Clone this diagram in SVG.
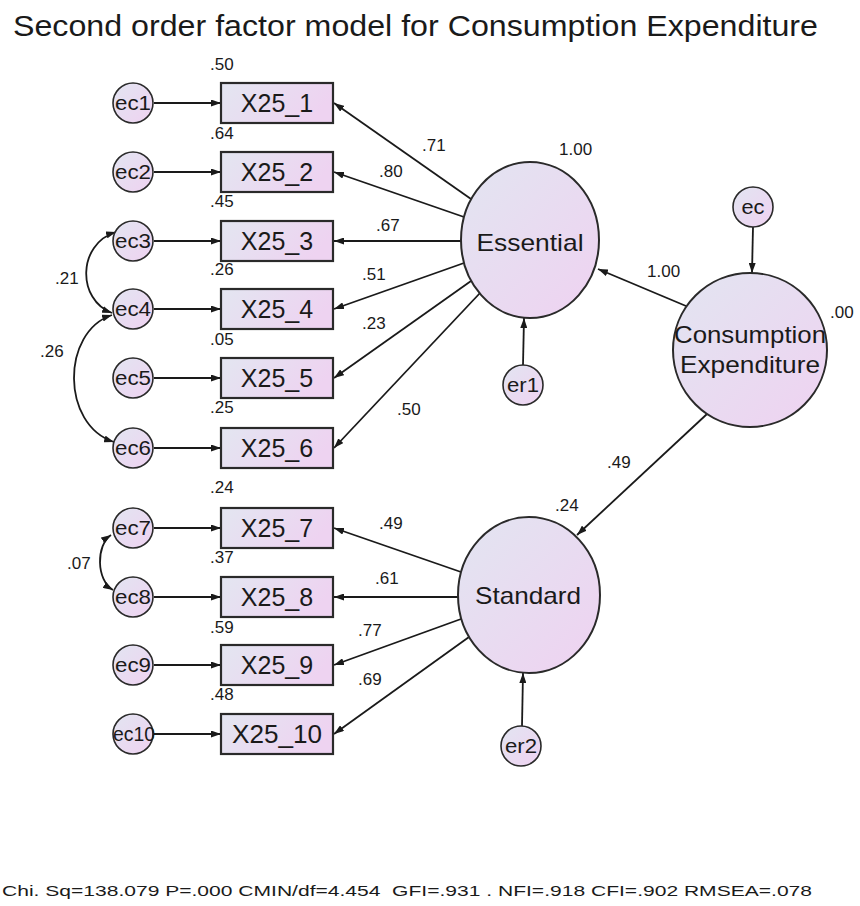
<svg xmlns="http://www.w3.org/2000/svg" width="860" height="906" viewBox="0 0 860 906">
  <defs>
    <linearGradient id="fillGrad" x1="0" y1="0" x2="1" y2="1">
      <stop offset="0" stop-color="#e2e5f1"/>
      <stop offset="1" stop-color="#efd2f1"/>
    </linearGradient>
    <linearGradient id="boxGrad" x1="0" y1="0" x2="1" y2="0.3">
      <stop offset="0" stop-color="#e3e6f1"/>
      <stop offset="1" stop-color="#eed3f1"/>
    </linearGradient>
    <marker id="arrow" viewBox="0 0 10 7" refX="10" refY="3.5" markerWidth="10" markerHeight="7" markerUnits="userSpaceOnUse" orient="auto-start-reverse">
      <path d="M0,0 L10,3.5 L0,7 z" fill="#1a1a1a"/>
    </marker>
  </defs>
  <style>
    text { font-family: "Liberation Sans", Arial, sans-serif; fill: #1a1a1a; }
    .title { font-size: 30px; }
    .box { fill: url(#boxGrad); stroke: #2a2a2a; stroke-width: 2.2; }
    .lat { fill: url(#fillGrad); stroke: #2a2a2a; stroke-width: 2; }
    .err { fill: url(#fillGrad); stroke: #2a2a2a; stroke-width: 1.6; }
    .vname { font-size: 25px; text-anchor: middle; }
    .lname { font-size: 24px; text-anchor: middle; }
    .ename { font-size: 20px; text-anchor: middle; }
    .num { font-size: 17px; }
    .fit { font-size: 15px; white-space: pre; }
    .path { fill: none; stroke: #1a1a1a; stroke-width: 1.8; marker-end: url(#arrow); }
    .cov { fill: none; stroke: #1a1a1a; stroke-width: 1.8; marker-start: url(#arrow); marker-end: url(#arrow); }
  </style>

  <text class="title" x="13" y="36" textLength="805" lengthAdjust="spacingAndGlyphs">Second order factor model for Consumption Expenditure</text>

  <!-- paths and covariances -->
  <g id="connectors">
    <!-- unique errors to indicators -->
    <line class="path" x1="154" y1="103" x2="221" y2="103"/>
    <line class="path" x1="154" y1="172" x2="221" y2="172"/>
    <line class="path" x1="154" y1="241" x2="221" y2="241"/>
    <line class="path" x1="154" y1="309" x2="221" y2="309"/>
    <line class="path" x1="154" y1="378" x2="221" y2="378"/>
    <line class="path" x1="154" y1="448" x2="221" y2="448"/>
    <line class="path" x1="154" y1="528" x2="221" y2="528"/>
    <line class="path" x1="154" y1="597" x2="221" y2="597"/>
    <line class="path" x1="154" y1="665" x2="221" y2="665"/>
    <line class="path" x1="154" y1="734" x2="221" y2="734"/>
    <!-- Essential loadings -->
    <line class="path" x1="471" y1="199" x2="334" y2="103"/>
    <line class="path" x1="464" y1="217" x2="334" y2="172"/>
    <line class="path" x1="461" y1="241" x2="334" y2="241"/>
    <line class="path" x1="464" y1="263" x2="334" y2="309"/>
    <line class="path" x1="471" y1="281" x2="334" y2="378"/>
    <line class="path" x1="480" y1="293" x2="334" y2="448"/>
    <!-- Standard loadings -->
    <line class="path" x1="461" y1="572" x2="334" y2="528"/>
    <line class="path" x1="458" y1="597" x2="334" y2="597"/>
    <line class="path" x1="461" y1="619" x2="334" y2="665"/>
    <line class="path" x1="469" y1="637" x2="334" y2="734"/>
    <!-- second order paths -->
    <line class="path" x1="686" y1="306" x2="598" y2="269"/>
    <line class="path" x1="707" y1="414" x2="577" y2="535"/>
    <line class="path" x1="753" y1="227" x2="752" y2="273"/>
    <line class="path" x1="523" y1="365" x2="524" y2="318"/>
    <line class="path" x1="522" y1="726" x2="523" y2="673"/>
    <!-- error covariances -->
    <path class="cov" d="M116,232 C77,244 77,300 112,313"/>
    <path class="cov" d="M112,315 C61,332 61,425 114,442"/>
    <path class="cov" d="M111,535 C96,545 96,580 113,590"/>
  </g>

  <!-- observed indicators -->
  <g id="X25_1"><rect class="box" x="221" y="83" width="112" height="40"/><text class="vname" x="277" y="112">X25_1</text></g>
  <g id="X25_2"><rect class="box" x="221" y="152" width="112" height="40"/><text class="vname" x="277" y="181">X25_2</text></g>
  <g id="X25_3"><rect class="box" x="221" y="221" width="112" height="40"/><text class="vname" x="277" y="250">X25_3</text></g>
  <g id="X25_4"><rect class="box" x="221" y="289" width="112" height="40"/><text class="vname" x="277" y="318">X25_4</text></g>
  <g id="X25_5"><rect class="box" x="221" y="358" width="112" height="40"/><text class="vname" x="277" y="387">X25_5</text></g>
  <g id="X25_6"><rect class="box" x="221" y="428" width="112" height="40"/><text class="vname" x="277" y="457">X25_6</text></g>
  <g id="X25_7"><rect class="box" x="221" y="508" width="112" height="40"/><text class="vname" x="277" y="537">X25_7</text></g>
  <g id="X25_8"><rect class="box" x="221" y="577" width="112" height="40"/><text class="vname" x="277" y="606">X25_8</text></g>
  <g id="X25_9"><rect class="box" x="221" y="645" width="112" height="40"/><text class="vname" x="277" y="674">X25_9</text></g>
  <g id="X25_10"><rect class="box" x="221" y="714" width="112" height="40"/><text class="vname" x="277" y="743" textLength="90" lengthAdjust="spacingAndGlyphs">X25_10</text></g>

  <!-- unique error terms -->
  <g id="ec1"><circle class="err" cx="133" cy="103" r="20"/><text class="ename" x="133" y="110" textLength="36" lengthAdjust="spacingAndGlyphs">ec1</text></g>
  <g id="ec2"><circle class="err" cx="133" cy="172" r="20"/><text class="ename" x="133" y="179" textLength="36" lengthAdjust="spacingAndGlyphs">ec2</text></g>
  <g id="ec3"><circle class="err" cx="133" cy="241" r="20"/><text class="ename" x="133" y="248" textLength="36" lengthAdjust="spacingAndGlyphs">ec3</text></g>
  <g id="ec4"><circle class="err" cx="133" cy="309" r="20"/><text class="ename" x="133" y="316" textLength="36" lengthAdjust="spacingAndGlyphs">ec4</text></g>
  <g id="ec5"><circle class="err" cx="133" cy="378" r="20"/><text class="ename" x="133" y="385" textLength="36" lengthAdjust="spacingAndGlyphs">ec5</text></g>
  <g id="ec6"><circle class="err" cx="133" cy="448" r="20"/><text class="ename" x="133" y="455" textLength="36" lengthAdjust="spacingAndGlyphs">ec6</text></g>
  <g id="ec7"><circle class="err" cx="133" cy="528" r="20"/><text class="ename" x="133" y="535" textLength="36" lengthAdjust="spacingAndGlyphs">ec7</text></g>
  <g id="ec8"><circle class="err" cx="133" cy="597" r="20"/><text class="ename" x="133" y="604" textLength="36" lengthAdjust="spacingAndGlyphs">ec8</text></g>
  <g id="ec9"><circle class="err" cx="133" cy="665" r="20"/><text class="ename" x="133" y="672" textLength="36" lengthAdjust="spacingAndGlyphs">ec9</text></g>
  <g id="ec10"><circle class="err" cx="133" cy="734" r="20"/><text class="ename" x="134" y="741" textLength="42" lengthAdjust="spacingAndGlyphs">ec10</text></g>

  <!-- first order factors -->
  <g id="Essential"><ellipse class="lat" cx="530" cy="240" rx="69" ry="78"/><text class="lname" x="530" y="251" textLength="107" lengthAdjust="spacingAndGlyphs">Essential</text></g>
  <g id="Standard"><ellipse class="lat" cx="529" cy="595" rx="71" ry="78"/><text class="lname" x="528" y="604" textLength="106" lengthAdjust="spacingAndGlyphs">Standard</text></g>
  <g id="er1"><circle class="err" cx="523" cy="385" r="20"/><text class="ename" x="523" y="392" textLength="32" lengthAdjust="spacingAndGlyphs">er1</text></g>
  <g id="er2"><circle class="err" cx="521" cy="746" r="20"/><text class="ename" x="521" y="753" textLength="32" lengthAdjust="spacingAndGlyphs">er2</text></g>

  <!-- second order factor -->
  <g id="ConsumptionExpenditure"><circle class="lat" cx="750" cy="350" r="77"/><text class="lname" x="750" y="343" textLength="152" lengthAdjust="spacingAndGlyphs">Consumption</text><text class="lname" x="750" y="373" textLength="140" lengthAdjust="spacingAndGlyphs">Expenditure</text></g>
  <g id="ec"><circle class="err" cx="753" cy="207" r="20"/><text class="ename" x="753" y="214" textLength="23" lengthAdjust="spacingAndGlyphs">ec</text></g>

  <!-- estimates -->
  <g id="estimates">
    <text class="num" x="210" y="70">.50</text>
    <text class="num" x="210" y="139">.64</text>
    <text class="num" x="210" y="207">.45</text>
    <text class="num" x="210" y="275">.26</text>
    <text class="num" x="210" y="345">.05</text>
    <text class="num" x="210" y="413">.25</text>
    <text class="num" x="210" y="493">.24</text>
    <text class="num" x="210" y="563">.37</text>
    <text class="num" x="210" y="633">.59</text>
    <text class="num" x="210" y="700">.48</text>
    <text class="num" x="422" y="151">.71</text>
    <text class="num" x="379" y="177">.80</text>
    <text class="num" x="376" y="231">.67</text>
    <text class="num" x="362" y="280">.51</text>
    <text class="num" x="362" y="329">.23</text>
    <text class="num" x="397" y="415">.50</text>
    <text class="num" x="559" y="155">1.00</text>
    <text class="num" x="647" y="277">1.00</text>
    <text class="num" x="830" y="318">.00</text>
    <text class="num" x="607" y="468">.49</text>
    <text class="num" x="555" y="511">.24</text>
    <text class="num" x="379" y="529">.49</text>
    <text class="num" x="375" y="584">.61</text>
    <text class="num" x="358" y="636">.77</text>
    <text class="num" x="358" y="685">.69</text>
    <text class="num" x="55" y="284">.21</text>
    <text class="num" x="40" y="357">.26</text>
    <text class="num" x="67" y="569">.07</text>
  </g>

  <text class="fit" x="2" y="896" textLength="810" lengthAdjust="spacingAndGlyphs">Chi. Sq=138.079 P=.000 CMIN/df=4.454  GFI=.931 . NFI=.918 CFI=.902 RMSEA=.078</text>
</svg>
